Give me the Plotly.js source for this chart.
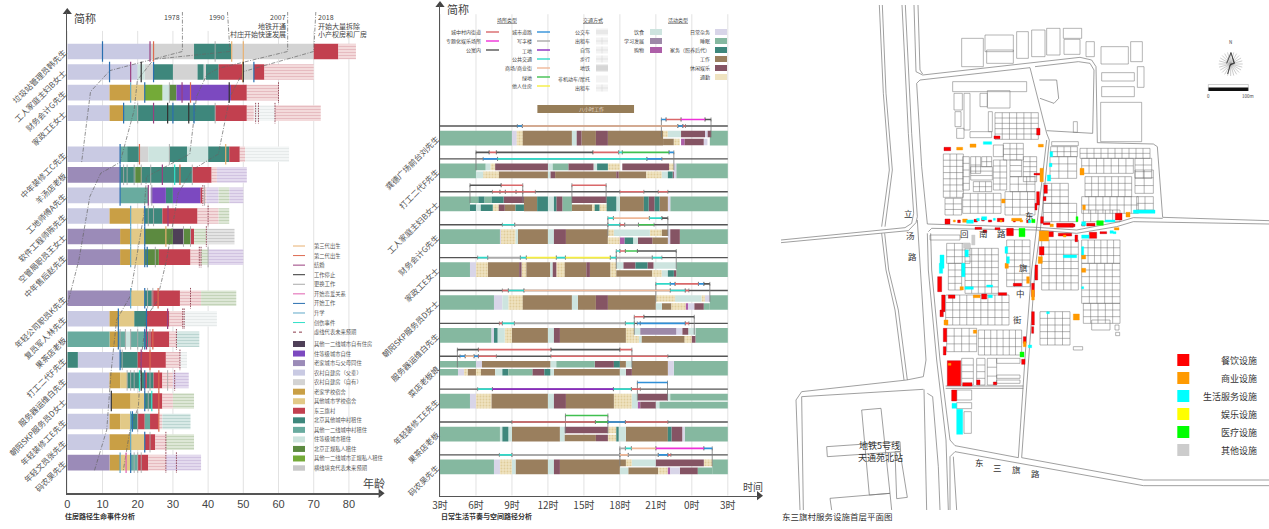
<!DOCTYPE html>
<html><head><meta charset="utf-8">
<script src="https://cdn.plot.ly/plotly-3.0.1.min.js"></script>
<style>html,body{margin:0;padding:0;background:#fff}#c{width:1269px;height:529px}</style>
</head><body><div id="c"></div>
<script>
const W=1269,H=529;
const FONT='"Noto Sans CJK SC","Liberation Sans",sans-serif';

/* ---------- left chart : housing paths ---------- */
const personRows=[0,1,2,3,5,6,7,8,9,10,12,13,14,15,16,17,18,19,20];
const personNames=['垃圾站管理员韩先生','工人家庭主妇B女士','财务会计G先生','家政工E女士','中年装修工C先生','羊汤店老板','工地师傅A先生','软件工程师陈先生','空管局职员王女士','中年售后赵先生','年轻公司职员K先生','复员军人林先生','果茶店老板','打工二代F先生','服务器运维白先生','朝阳SKP服务员D女士','年轻装修工E先生','年轻文员张先生','码农吴先生'];
const ageTicks=[0,10,20,30,40,50,60,70,80];
const hHan=[['P',0,23.5],['O',23.5,36],['T',36,46.5],['O',46.5,70],['R',70,77],['fr',77,82]];
const hB=[['P',0,20],['Q',20,22],['O',22,24.5],['T',24.5,30],['O',30,37],['T',37,38.7],['O',38.7,39.4],['T',39.4,43],['R',43,50],['O',50,53],['R',53,56],['fr',56,70]];
const hG=[['P',0,12],['A',12,18],['B',18,22],['H',22,27],['Q',27,29],['G',29,31],['N',31,46.5],['R',46.5,51],['fr',51,60]];
const hE=[['P',0,12],['A',12,16],['V',16,20],['T',20,42],['R',42,51],['fr',51,53],['fw',53,59],['fr',59,72]];
const hC=[['P',0,15],['V',15,17],['T',17,20.3],['O',20.3,23],['Q',23,29],['T',29,34],['Q',34,40],['T',40,46],['R',46,49],['fr',49,50.5],['fw',50.5,63]];
const hYang=[['U',0,15],['T',15,19.3],['G',19.3,21.2],['T',21.2,35.5],['R',35.5,41],['fr',41,42.5],['fp',42.5,51]];
const hA=[['P',0,15],['V',15,23],['N',23.7,28],['T',28,30],['N',30,37.8],['R',37.8,38.3],['fr',38.3,39.5],['fp',39.5,43],['fg',43,46],['fp',46,50]];
const hChen=[['P',0,12],['A',12,18],['B',18,22],['T',22,27],['R',27,37],['fr',37,43],['fg',43,46]];
const hWang=[['U',0,15],['A',15,18],['B',18,22],['G',22,30],['K',30,33],['G',33,35],['R',35,36],['fg',36,39.5],['fa',39.5,47.5]];
const hZhao=[['U',0,15],['A',15,18],['B',18,22],['G',22,26],['R',26,35],['fr',35,38],['fg',38,40],['fp',40,50]];
const hK=[['U',0,18],['B',18,22],['T',22,24],['R',24,32],['fr',32,38],['fg',38,48]];
const hLin=[['P',0,12],['A',12,14.5],['B',14.5,19],['T',19,22.5],['R',22.5,29],['fr',29,33],['fw',33,42.5]];
const hGuo=[['V',0,12],['A',12,14.5],['V',14.5,16.5],['Q',16.5,18],['V',18,22],['T',22,23],['R',23,29],['fr',29,31],['ft',31,37.5]];
const hF=[['T',0,3],['P',3,15],['T',15,20],['R',20,28],['fr',28,32],['fw',32,34]];
const hBai=[['P',0,12],['A',12,15],['B',15,17],['T',17,20.5],['Q',20.5,21],['T',21,22],['R',22,22.6],['T',22.6,24.5],['R',24.5,27],['fr',27,30],['fp',30,34.5]];
const hD=[['P',0,12.5],['A',12.5,18],['B',18,22],['T',22,24],['R',24,27],['fr',27,30],['fg',30,36]];
const hYoungE=[['P',0,12],['A',12,15],['B',15,18],['T',18,20],['R',20,22],['V',22,23.5],['R',23.5,26],['fr',26,27],['ft',27,35]];
const hZhang=[['P',0,12],['A',12,18],['B',18,22],['R',22,25],['fr',25,28],['fg',28,36]];
const hWu=[['U',0,12],['A',12,15],['B',15,18],['V',18,20],['R',20,23],['fr',23,28],['fp',28,38]];
const housing=[hHan,hB,hG,hE,hC,hYang,hA,hChen,hWang,hZhao,hK,hLin,hGuo,hF,hBai,hD,hYoungE,hZhang,hWu];

const eHan=[['w',10],['m',23.5],['c2',24.5],['g',42],['c3',46.7],['c3',50]];
const eB=[['w',12],['m',18],['s',21],['w',24.5],['c3',49.8],['s',50],['w',53]];
const eG=[['u',18],['w',22],['g',29],['m',32.6],['c2',35],['s',46],['d',60]];
const eE=[['w',16],['g',20],['m',24.5],['s',28.5],['w',30],['s',34.5],['w',36],['g',42],['d',53.5],['d',54.3],['d',59]];
const eC=[['w',15],['c2',20.5],['g',29],['c3',45]];
const eYang=[['w',15],['g',16],['g',17],['g',19],['g',21],['g',23.7],['m',27],['t',30.5],['c2',32],['g',35.5]];
const eA=[['w',15],['m',23],['g',24],['d',38.5],['g',39]];
const eChen=[['u',18],['w',22],['g',23],['g',24.5],['m',28.6],['d',40]];
const eWang=[['u',18],['w',22],['c3',28],['g',33],['g',35],['d',39.5]];
const eZhao=[['u',18],['w',22],['w',22.7],['g',25],['d',37.5],['d',38],['g',40]];
const eK=[['u',18],['w',22],['g',22.8],['g',24.3],['c2',25.8],['d',35]];
const eLin=[['w',14.5],['w',22.5],['m',28.5],['d',32.8],['d',33.2]];
const eGuo=[['w',14.5],['g',15],['g',16.5],['g',18],['g',20],['w',22],['m',22.5],['g',23.5],['c2',24.3],['d',31]];
const eF=[['w',15],['g',15.6],['m',21],['c2',23.5],['d',32]];
const eBai=[['g',17],['g',18],['g',19],['t',20.5],['s',21],['w',22],['g',23.5],['c2',26],['g',28.5],['d',30.5]];
const eD=[['s',12.5],['w',22],['g',23],['t',24],['c2',26]];
const eYoungE=[['u',18],['w',18.5],['g',20],['c2',26]];
const eZhang=[['u',18],['w',22],['g',23.5],['d',28]];
const eWu=[['u',15],['l',16.7],['w',18],['g',19],['g',20],['g',21],['d',28],['d',31]];
const lifeEvents=[eHan,eB,eG,eE,eC,eYang,eA,eChen,eWang,eZhao,eK,eLin,eGuo,eF,eBai,eD,eYoungE,eZhang,eWu];

const cohort1978Age=[32.7,32.7,12.1,6.6,4.07];
const cohort1978Row=[-1.94,0,0.93,1.95,5.39];
const cohort1990Age=[45.5,46.2,24.6,19.9,19,15,9.5,6.4,3.3,0];
const cohort1990Row=[-1.94,0,0.38,1.39,2.85,5.39,5.92,7.06,10.14,12.33];
const cohort2007Age=[62.6,62.6,42.9,39.6,36.7,34.8,22.5,21.8,17.8,14,12.4,11.2,7.7];
const cohort2007Row=[-1.94,0,0.82,1.14,2.2,4.99,6.09,7.87,11.93,13.06,15.65,18.41,20.39];
const cohort2018Age=[70.6,70,50,46.2,42.9,35.5,31.5,28.2,25.4,22.5,20.9,20.2,17.8,15.9];
const cohort2018Row=[-1.94,0,0.98,2.2,4.99,5.76,6.9,10.14,12.17,12.9,15,17.28,18.41,20.39];

const housingColor={P:'#c9cae3',O:'#d3d3d3',U:'#9b8bb8',A:'#c99f45',B:'#e2c987',R:'#c2404f',T:'#3e877c',V:'#69ab9f',Q:'#cde4df',G:'#5c8a40',H:'#74aa38',K:'#4f4058',N:'#7c49c0'};
const futureStyle={fr:['#f3dadb','#e4b8bd'],fp:['#e3daee','#cfc1e0'],fg:['#dde7d6','#c0d0b4'],fa:['#e4e4e4','#c8c8c8'],ft:['#d8e9e6','#b8d3cf'],fw:['#f3f6f6','#e4e9e9']};
const eventColor={c3:'#e8b070',c2:'#dd6a50',m:'#993f7f',s:'#333333',g:'#aaaaaa',l:'#e060b0',w:'#2a6fb0',u:'#60a8c8',t:'#30e0c8',d:'#8a3848'};

/* ---------- middle chart : daily rhythm ---------- */
const hourTicks=[3,6,9,12,15,18,21,24,27];
const hourLabels=['3时','6时','9时','12时','15时','18时','21时','0时','3时'];
const dayNames=['龚德广场前台刘先生','打工二代F先生','工人家庭主妇B女士','财务会计G先生','家政工E女士','朝阳SKP服务员D女士','服务器运维白先生','菜店老板娘','年轻装修工E先生','果茶店老板','码农吴先生'];
const dLiu=[['f','S',3,9],['f','D',9,9.4],['f','C',9.4,9.9],['f','W',9.9,14],['f','M',14,14.4],['f','L',14.4,14.8],['f','W',14.8,16],['f','L',16,17],['f','W',17,21.6],['u','C',21.6,22],['u','M',22,23.1],['u','L',23.1,25.1],['u','D',25.1,25.3],['u','L',25.3,25.6],['l','W',21.6,22.5],['l','C',22.5,23],['l','B',23.1,23.4],['l','L',23.4,25],['l','D',25,25.3],['f','S',25.5,27]];
const dF=[['f','S',3,6],['u','S',6,6.8],['u','M',6.8,7.2],['u','C',7.2,7.6],['u','L',7.6,12],['u','M',12,12.4],['u','S',12.4,13.7],['u','L',13.7,15.8],['u','M',15.8,16.1],['u','H',16.1,17],['u','C',17,18],['u','L',18.2,22.1],['u','C',22.1,22.5],['l','M',6,6.6],['l','C',6.6,7.9],['l','W',7.9,12],['l','M',12,12.2],['l','L',12.2,12.6],['l','W',12.6,17.7],['l','L',17.7,17.9],['l','W',17.9,20.2],['l','C',20.2,21.5],['l','M',21.5,22],['l','H',22,22.4],['l','L',22.4,22.5],['f','D',22.5,22.7],['f','S',22.7,27]];
const dB=[['f','S',3,5.5],['u','S',5.5,6.2],['u','H',6.2,6.7],['u','S',6.7,7.3],['u','H',7.3,8.3],['u','L',8.3,10],['l','H',5.5,6],['l','M',6,6.4],['l','H',6.4,7.4],['l','C',7.4,7.9],['l','L',7.9,8.4],['l','W',8.4,9.3],['l','H',9.3,10],['f','W',10,11.1],['f','H',11.1,12],['f','M',12,12.5],['f','H',12.5,12.7],['f','L',12.7,13.2],['f','S',13.2,14],['u','L',14,16.9],['l','W',14,15.7],['l','C',15.7,15.9],['l','H',15.9,16.3],['l','C',16.3,16.9],['f','H',16.9,17.7],['f','M',17.7,18],['f','W',18,20],['f','H',20,20.4],['f','L',20.4,20.9],['f','H',20.9,21.3],['f','W',21.3,22],['f','D',22,22.2],['f','S',22.2,27]];
const dG=[['f','S',3,8],['f','D',8,8.1],['f','C',8.1,9.3],['f','M',9.3,9.5],['f','W',9.5,12],['f','M',12,12.5],['f','L',12.5,13.5],['f','W',13.5,17],['u','C',17,17.5],['u','M',17.5,20.5],['u','C',20.5,21.5],['u','W',21.5,22],['l','C',17,18],['l','B',18,18.4],['l','H',18.4,19.1],['l','M',19.1,19.5],['l','L',19.5,20.7],['l','W',20.7,22],['f','D',22,22.2],['f','L',22.2,23],['f','S',23,27]];
const dE=[['f','S',3,5.5],['f','D',5.5,6],['f','C',6,7],['f','W',7,9.6],['f','L',9.6,9.8],['f','C',9.8,10.2],['f','W',10.2,12.2],['f','M',12.2,12.4],['f','L',12.4,12.7],['f','C',12.7,13.4],['f','W',13.4,15.2],['f','L',15.2,15.5],['f','W',15.5,17.2],['f','C',17.2,17.7],['u','M',17.7,18.3],['u','L',18.3,19.3],['u','H',19.3,20.3],['u','L',20.3,20.8],['u','M',20.8,22.7],['l','W',17.7,20.7],['l','C',20.7,21.5],['l','M',21.5,22],['l','H',22,22.5],['l','L',22.5,22.7],['f','S',22.7,27]];
const dD=[['f','S',3,7.5],['f','D',7.5,8.2],['f','M',8.2,8.7],['f','C',8.7,9.9],['f','W',9.9,14],['f','M',14,14.5],['f','W',14.5,16],['f','L',16,17],['f','W',17,21],['u','C',21,22.6],['u','M',22.6,24.8],['u','C',24.8,25.1],['u','D',25.1,25.5],['l','M',21,21.5],['l','W',21.5,22.3],['l','C',22.3,23.5],['l','B',23.5,23.7],['l','D',23.7,24.2],['l','L',24.2,25],['l','S',25,25.5],['f','S',25.5,27]];
const dBai=[['f','S',3,7.3],['f','D',7.3,7.5],['f','H',7.5,7.8],['f','M',7.8,8.4],['f','C',8.4,9],['f','W',9,12],['f','M',12,12.5],['f','L',12.5,13],['f','W',13,18.5],['f','C',18.5,19.2],['u','M',19.2,19.7],['u','T',19.7,22.7],['u','D',22.7,23.2],['u','L',23.2,23.7],['u','M',23.7,24.3],['l','C',19.2,19.6],['l','M',19.6,19.8],['l','W',19.8,23.4],['l','C',23.4,24],['l','L',24,24.3],['f','S',24.3,27]];
const dCai=[['u','S',3,6],['u','D',6,6.5],['u','W',6.5,12.2],['u','M',12.2,12.7],['u','S',12.7,15.9],['u','L',15.9,17.5],['u','H',17.5,18],['u','W',18,18.5],['u','M',18.5,19],['l','S',3,4.5],['l','D',4.5,5],['l','C',5,5.3],['l','W',5.3,6],['l','C',6,6.4],['l','W',6.4,7.6],['l','M',7.6,8.2],['l','H',8.2,8.7],['l','S',8.7,10.7],['l','L',10.7,11.7],['l','H',11.7,12.2],['l','M',12.2,12.5],['l','W',12.5,18],['l','M',18,18.5],['l','L',18.5,19],['f','W',19,22],['f','D',22,22.5],['f','S',22.5,27]];
const dYoungE=[['f','S',3,5.5],['f','D',5.5,6],['f','C',6,7.3],['f','W',7.3,12],['f','M',12,12.5],['f','L',12.5,13.5],['f','W',13.5,17.5],['f','C',17.5,19],['f','M',19,19.5],['u','L',19.5,22],['u','M',22,22.2],['u','S',22.2,27],['l','B',19.5,19.7],['l','L',19.7,21],['l','M',21,21.3],['l','S',21.3,27]];
const dGuo=[['f','S',3,8],['f','M',8,8.2],['f','H',8.2,8.7],['f','M',8.7,9],['f','W',9,13],['f','M',13,13.4],['u','L',13.4,17],['u','C',17,17.7],['l','W',13.4,16],['l','L',16,17],['l','C',17,17.7],['f','H',17.7,17.9],['f','M',17.9,18.5],['f','W',18.5,22],['f','H',22,22.3],['f','L',22.3,23.2],['f','D',23.2,23.4],['f','S',23.4,27]];
const dWu=[['f','S',3,7.5],['f','D',7.5,8],['f','C',8,9],['f','M',9,9.3],['f','W',9.3,12],['f','M',12,12.5],['f','L',12.5,13],['f','W',13,18],['u','W',18,18.5],['u','C',18.5,19],['u','M',19,21],['u','L',21,25],['u','C',25,25.7],['l','M',18,18.7],['l','W',18.7,21.2],['l','C',21.2,22],['l','B',22,22.2],['l','D',22.2,23],['l','L',23,24.5],['l','S',24.5,25.7],['f','S',25.7,27]];
const dayActivities=[dLiu,dF,dB,dG,dE,dD,dBai,dCai,dYoungE,dGuo,dWu];

const tLiu=[['b',9.45,9.87],['o',9.87,22.83],['b',22.83,23.25],['r',23.25,23.47]];
const tF=[['b',6.6,7.8],['c',7.8,20.25],['b',20.25,21.5]];
const tB=[['r',7.37,8],['r',8,8.45],['r',8.45,9.34],['r',9.34,9.9],['r',9.9,10.95],['r',18,20],['r',21.2,22]];
const tG=[['c',8.2,9.23],['g',9.23,17],['c',17,18],['r',18,18.4],['g',18.4,19.55],['n',19.55,20.85]];
const tE=[['c',6.14,6.98],['g',6.98,9.7],['c',9.7,10.2],['y',10.2,12.7],['c',12.7,13.46],['y',13.46,17.2],['c',17.2,17.7],['g',17.7,20.7],['c',20.7,21.5]];
const tD=[['r',8.2,8.7],['c',8.7,10],['o',10,22.2],['c',22.2,23.45],['r',23.45,23.75]];
const tBai=[['r',7.95,8.2],['c',8.2,9.2],['g',9.2,18.46],['c',18.46,19.2],['b',19.45,19.7],['b',19.7,23.45],['r',23.45,23.75]];
const tCai=[['b',4.67,5.1],['o',5.1,5.84],['b',5.84,6.2],['r',6.2,7.7],['r',12.25,22]];
const tYoungE=[['c',6.14,7.37],['p',7.37,17.46],['c',17.46,18.96],['r',18.96,19.7]];
const tGuo=[['r',9,15.96],['n',15.96,17],['b',17,18.46],['r',18.46,22]];
const tWu=[['c',7.95,9],['g',9,18],['o',18,18.7],['g',18.7,21.2],['b',21.2,22],['r',22,22.25]];
const dayTracks=[tLiu,tF,tB,tG,tE,tD,tBai,tCai,tYoungE,tGuo,tWu];

const bLiu=[['b',21.46,21.85],['r',21.85,23.1],['m',23.1,25.1],['d',25.1,25.6]];
const bF=[['d',6,7.1],['r',7.1,7.7],['d',7.7,15.75],['r',15.75,17.9],['c',17.9,18.2],['n',18.2,22.1],['b',22.1,22.5]];
const bB1=[['d',5.5,8.1],['r',8.1,9.9]];
const bB2=[['r',14,16.85]];
const bG=[['c',17,17.46],['o',17.46,20.46],['c',20.46,21.5],['d',21.5,22]];
const bE=[['c',17.7,18],['r',18,18.46],['n',18.46,19.46],['d',19.46,22.7]];
const bD=[['c',21,22.2],['b',22.2,22.6],['r',22.6,24.55],['b',24.55,25],['d',25,25.5]];
const bBai=[['r',19.2,20],['d',20,24.2]];
const bCai=[['d',4.45,6.2],['r',6.2,12.25],['d',12.25,18],['r',18,19]];
const bYoungE=[['b',19.46,21.97]];
const bGuo=[['n',13.46,17]];
const bWu=[['g',18,18.46],['c',18.46,18.96],['o',18.96,21],['m',21,25],['b',25,25.7]];
const dayBranches=[[bLiu],[bF],[bB1,bB2],[bG],[bE],[bD],[bBai],[bCai],[bYoungE],[bGuo],[bWu]];
const eightHourWork=[11.12,19.18];

const activityColor={S:'#85b8a0',W:'#9a7f5e',L:'#855464',C:'#efe3c0',M:'#cde4df',H:'#3e877c',D:'#d8d5e8',T:'#9d89a8',B:'#ad5fa8'};
const placeColor={d:'#555555',r:'#d9686a',m:'#ee30d8',b:'#3090d8',g:'#aaaaaa',p:'#8a2bc0',c:'#30d8c8',o:'#efb898',n:'#40c050',y:'#f5ee40'};

/* ---------- right : map (plan units) ---------- */
const roadLines=[
 [[298,15],[310,280],[328,510],[305,680]],[[307,15],[318,280],[337,510],[315,680]],
 [[305,700],[318,810],[345,930],[372,1140]],[[314,700],[326,810],[355,930],[382,1140]],
 [[3,720],[305,690],[375,683],[395,670],[401,640],[385,400],[366,15]],
 [[3,728],[305,698],[385,692],[408,668],[412,650],[395,400],[376,15]],
 [[402,15],[408,215],[428,225],[900,172],[935,180],[948,200],[952,428],[1120,432],[1132,440],[1148,652],[1467,662]],
 [[414,15],[420,210],[428,222]],
 [[412,660],[432,1000],[438,1080],[430,1130],[380,1140],[65,1175],[48,1200],[60,1530]],
 [[70,1530],[65,1190],[430,1168]],
 [[420,240],[750,203],[800,400],[808,420]],[[765,200],[895,185],[930,190],[942,210],[938,400],[800,392]],
 [[420,240],[410,250],[425,500],[442,672],[770,682],[890,690],[1020,665],[1060,653],[1148,655]],
 [[445,695],[455,685],[770,690],[890,700],[1010,680],[1060,665],[1467,672]],
 [[442,700],[445,810],[470,1080],[498,1320],[505,1530]],[[452,700],[455,810],[480,1080],[510,1320],[525,1337],[715,1373]],
 [[725,1373],[1090,1440],[1467,1440]],[[510,1530],[510,1370],[525,1355],[1090,1457],[1467,1457]],
 [[432,1168],[440,1530]],[[442,1180],[458,1190],[475,1400],[480,1530]],[[520,1370],[530,1530]],
 [[808,420],[782,680],[765,810],[750,1030],[725,1373]],[[800,420],[770,680],[755,810],[738,1030],[715,1373]],
 [[497,1158],[730,1158]],[[497,1165],[730,1165]],
 [[245,1230],[303,1225],[330,1480],[268,1485],[245,1230]],[[140,1340],[360,1325],[362,1355],[142,1370],[140,1340]],[[150,1495],[330,1480],[335,1530]],[[345,1355],[360,1355],[382,1492],[350,1496],[345,1355]],
 [[150,1495],[155,1530]],[[778,240],[830,240],[836,295],[822,310],[780,295]]
];
const plainBuildings=[[545,115,65,85],[615,105,85,50],[620,150,80,40],[710,95,35,80],[755,90,40,80],[800,85,40,80],[850,85,55,30],[852,118,48,45],[918,125,25,45],[963,140,82,52],[1052,125,35,60],[1072,200,20,62],[965,218,98,25],[965,260,98,30],[962,307,123,118],[518,245,222,30],[522,280,25,50],[525,335,18,45],[530,385,22,30],[552,280,18,110],[622,272,68,52],[600,280,22,40],[570,395,65,18],[625,335,12,60],[880,365,12,32],[815,425,80,12],[530,1170,45,30],[530,1208,45,18],[552,1235,22,65],[935,960,55,30],[1005,975,12,15],[1007,997,12,10],[880,1040,28,10],[650,1075,70,15],[650,1125,70,10],[650,1140,70,10],[450,705,90,15]];
const villageBlocks=[[490,462,60,130,3,7],[495,595,50,50,2,3],[572,470,30,50,2,2],[605,470,30,30,2,2],[572,500,65,40,1,3],[580,545,55,30,3,2],[548,470,20,100,1,5],[548,580,115,60,5,3],[640,435,30,35,1,1],[670,430,60,50,3,3],[640,480,40,90,2,5],[690,480,35,50,1,3],[730,470,40,75,2,5],[690,530,75,45,3,2],[675,575,90,70,4,3],[645,338,130,80,6,5],[812,440,80,30,4,2],[810,470,80,65,3,3],[790,550,75,60,3,3],[790,610,100,55,4,2],[900,445,210,30,10,2],[905,475,155,45,7,2],[1065,475,50,60,2,3],[915,530,140,60,7,3],[1065,510,55,70,2,3],[905,590,170,50,8,2],[1070,590,50,40,2,2],[910,630,110,35,5,1],[500,730,70,60,3,3],[505,790,40,80,2,4],[555,745,100,135,5,7],[680,720,70,140,3,7],[785,720,110,150,5,7],[905,720,115,70,6,3],[905,790,115,120,5,6],[497,885,190,90,9,4],[500,985,90,70,4,3],[595,990,130,75,7,3],[780,935,90,100,4,5],[910,910,110,60,5,3],[545,1075,35,80,1,4],[590,1075,25,80,1,4],[622,1075,28,80,1,3]];
const diningSites=[[492,442,20,10],[495,657,15,15],[533,660,8,8],[582,658,10,8],[652,655,20,10],[642,408,18,8],[770,385,10,20],[792,555,10,25],[790,590,8,12],[1006,640,20,20],[928,697,22,18],[680,685,20,22],[585,682,20,6],[610,690,10,8],[782,650,8,20],[790,668,20,6],[830,670,50,12],[778,740,14,25],[805,695,15,15],[835,700,40,8],[885,705,8,20],[960,695,20,6],[762,520,20,5],[770,575,8,40],[765,610,6,20],[920,670,25,8],[473,830,12,45],[485,885,10,50],[480,930,10,20],[490,985,10,40],[490,1040,8,25],[505,885,20,10],[605,882,15,15],[655,878,25,8],[765,795,8,45],[755,850,8,40],[755,935,8,40],[755,980,6,20],[730,1010,8,20],[725,1078,10,15],[502,1082,40,75],[548,1148,28,10],[515,1170,15,33],[700,850,25,8],[605,655,8,8],[625,660,10,6],[700,660,6,6],[740,660,8,8],[645,683,15,6],[905,672,10,6],[870,672,15,8],[590,1140,10,14],[640,1146,10,8]];
const shopSites=[[530,442,18,8],[570,432,18,10],[548,657,14,10],[665,597,10,12],[695,655,30,8],[900,505,12,20],[908,615,8,14],[778,693,28,30],[1038,637,12,14],[1003,683,14,7],[780,505,10,40],[775,433,15,8],[775,770,12,20],[905,765,12,12],[540,860,10,10],[880,942,18,18],[492,960,12,15],[580,990,10,10],[905,805,12,12],[755,870,8,30],[580,885,20,8],[775,780,10,10],[505,1090,8,6],[720,660,8,6],[660,660,6,6],[810,672,10,8],[850,705,8,6],[520,660,6,6],[730,1025,8,15],[675,790,10,15],[740,830,8,20]];
const serviceSites=[[610,425,25,8],[810,455,8,15],[808,490,8,10],[802,525,10,18],[1060,630,65,10],[905,665,12,12],[975,660,30,6],[905,705,22,10],[990,692,10,8],[850,765,40,8],[905,740,6,25],[560,660,20,10],[605,650,15,10],[480,765,12,40],[555,750,10,20],[675,740,8,20],[516,1210,14,15],[530,1228,18,75],[478,790,10,30],[555,860,25,8],[625,885,12,8],[745,1035,10,8],[905,860,6,6],[800,935,8,6],[545,790,10,40],[590,655,8,8],[640,655,6,6],[745,660,8,8],[1000,695,8,6],[680,770,8,20],[620,855,18,6]];
const clinicSites=[[717,685,18,25],[950,662,20,14],[755,658,10,10],[888,650,6,15],[720,1056,12,15]];
const otherSites=[[550,730,20,15],[575,705,10,30]];
const facilityNames=['餐饮设施','商业设施','生活服务设施','娱乐设施','医疗设施','其他设施'];
const facilityColors=['#ff0000','#ff9a00','#00ffff','#ffff00','#00ff00','#cccccc'];
const mapLabels=[['立',385,640],['汤',390,705],['路',396,767],['东',748,645],['回',553,700],['南',610,700],['路',665,698],['旗',730,800],['中',722,880],['街',712,958],['东',597,1387],['三',652,1400],['旗',708,1408],['路',765,1420]];

/* ---------- assembling ---------- */
const traces=[];const shapes=[];const ann=[];
const px=x=>x/W, py=y=>1-y/H;
function text(t,x,y,size,anchor,color,extra){ann.push(Object.assign({text:t,xref:'paper',yref:'paper',x:px(x),y:py(y),showarrow:false,xanchor:anchor||'left',yanchor:'middle',font:{family:FONT,size:size,color:color||'#444'},bgcolor:'rgba(0,0,0,0)',borderpad:0},extra||{}));}
function box(x0,y0,x1,y1,fill,line){shapes.push({type:'rect',xref:'paper',yref:'paper',x0:px(x0),x1:px(x1),y0:py(y0),y1:py(y1),fillcolor:fill,line:{width:line?0.5:0,color:line||fill}});}
function seg(x0,y0,x1,y1,c,w,dash){shapes.push({type:'line',xref:'paper',yref:'paper',x0:px(x0),x1:px(x1),y0:py(y0),y1:py(y1),line:{color:c,width:w||1,dash:dash||'solid'}});}
function lineTrace(xs,ys,color,width,xa,ya,dash){traces.push({type:'scatter',mode:'lines',x:xs,y:ys,xaxis:xa,yaxis:ya,line:{color:color,width:width,dash:dash||'solid'},hoverinfo:'skip',connectgaps:false});}
function barTrace(ys,bases,widths,w,marker,xa,ya){traces.push({type:'bar',orientation:'h',y:ys,base:bases,x:widths,width:w,marker:Object.assign({line:{width:0}},marker),xaxis:xa,yaxis:ya,hoverinfo:'skip'});}

/* left bars */
const hb={};housing.forEach((row,i)=>row.forEach(s=>{(hb[s[0]]=hb[s[0]]||{y:[],b:[],w:[]});hb[s[0]].y.push(personRows[i]);hb[s[0]].b.push(s[1]);hb[s[0]].w.push(s[2]-s[1]);}));
Object.keys(hb).forEach(k=>{
 const d=hb[k];
 if(housingColor[k])barTrace(d.y,d.b,d.w,0.76,{color:housingColor[k]},'x','y');
 else barTrace(d.y,d.b,d.w,0.76,{color:futureStyle[k][0],pattern:{shape:'-',bgcolor:futureStyle[k][0],fgcolor:futureStyle[k][1],size:3,solidity:0.3}},'x','y');
});
/* cohorts */
[[cohort1978Age,cohort1978Row],[cohort1990Age,cohort1990Row],[cohort2007Age,cohort2007Row],[cohort2018Age,cohort2018Row]].forEach(c=>lineTrace(c[0],c[1],'#666',0.7,'x','y','4px,1.5px,1px,1.5px'));
/* events */
const ev={};lifeEvents.forEach((row,i)=>row.forEach(e=>{const o=(ev[e[0]]=ev[e[0]]||{x:[],y:[]});const r=personRows[i];o.x.push(e[1],e[1],null);o.y.push(r-0.5,r+0.5,null);}));
Object.keys(ev).forEach(k=>lineTrace(ev[k].x,ev[k].y,eventColor[k],k==='g'?0.9:(k==='d'?0.9:1.2),'x','y',k==='d'?'1.5px,1px':'solid'));
/* left grid */
ageTicks.forEach(a=>shapes.push({type:'line',xref:'x',yref:'y',x0:a,x1:a,y0:-1,y1:21.49,layer:'below',line:{color:'#e2e2e2',width:1}}));
/* arrows */
traces.push({type:'scatter',mode:'markers',x:[0],y:[-1.92],xaxis:'x',yaxis:'y',cliponaxis:false,marker:{symbol:'triangle-up',size:8,color:'#444'},hoverinfo:'skip'});
traces.push({type:'scatter',mode:'markers',x:[89],y:[21.49],xaxis:'x',yaxis:'y',cliponaxis:false,marker:{symbol:'triangle-right',size:8,color:'#444'},hoverinfo:'skip'});

/* middle */
const laneOff={f:0.365,u:0.243,l:0.486},laneW={f:0.447,u:0.2,l:0.2};
const ab={};dayActivities.forEach((row,i)=>row.forEach(s=>{const k=s[1]+s[0];const o=(ab[k]=ab[k]||{y:[],b:[],w:[]});o.y.push(i+laneOff[s[0]]);o.b.push(s[2]);o.w.push(s[3]-s[2]);}));
Object.keys(ab).forEach(k=>{const c=k[0],l=k[1],d=ab[k];
 const m={color:activityColor[c]};
 if(c==='C')m.pattern={shape:'.',bgcolor:'#efe3c0',fgcolor:'#e0cc9a',size:3,solidity:0.3};
 barTrace(d.y,d.b,d.w,laneW[l],m,'x2','y2');});
barTrace([-0.517],[eightHourWork[0]],[eightHourWork[1]-eightHourWork[0]],0.243,{color:'#967d58'},'x2','y2');
/* base tracks */
const bx=[],by=[];dayTracks.forEach((t,i)=>{bx.push(3,27,null);by.push(i,i,null);});
lineTrace(bx,by,'#555',1.4,'x2','y2');
const pl={};const tickX=[],tickY=[];
function addPlace(code,a,b,y){const o=(pl[code]=pl[code]||{x:[],y:[]});o.x.push(a,b,null);o.y.push(y,y,null);tickX.push(a,a,null,b,b,null);tickY.push(y-0.06,y+0.06,null,y-0.06,y+0.06,null);}
dayTracks.forEach((t,i)=>t.forEach(s=>addPlace(s[0],s[1],s[2],i)));
dayBranches.forEach((gs,i)=>gs.forEach(g=>{g.forEach(s=>addPlace(s[0],s[1],s[2],i-0.2));
 const a=g[0][1],b=g[g.length-1][2];tickX.push(a,a,null,b,b,null);tickY.push(i-0.2,i+0.345,null,i-0.2,i+0.345,null);}));
lineTrace(tickX,tickY,'#777',0.8,'x2','y2');
Object.keys(pl).forEach(k=>lineTrace(pl[k].x,pl[k].y,placeColor[k],1.6,'x2','y2'));
hourTicks.forEach(a=>shapes.push({type:'line',xref:'x2',yref:'y2',x0:a,x1:a,y0:-3.4,y1:11.24,layer:'below',line:{color:'#e2e2e2',width:1}}));
traces.push({type:'scatter',mode:'markers',x:[3],y:[-3.68],xaxis:'x2',yaxis:'y2',cliponaxis:false,marker:{symbol:'triangle-up',size:8,color:'#444'},hoverinfo:'skip'});
traces.push({type:'scatter',mode:'markers',x:[29.6],y:[11.24],xaxis:'x2',yaxis:'y2',cliponaxis:false,marker:{symbol:'triangle-right',size:8,color:'#444'},hoverinfo:'skip'});

/* map */
const rx=[],ry=[];roadLines.forEach(l=>{l.forEach(p=>{rx.push(p[0]);ry.push(p[1]);});rx.push(null);ry.push(null);});
lineTrace(rx,ry,'#777',0.7,'x3','y3');
const gx=[],gy=[];
function rectPath(r,xs,ys){xs.push(r[0],r[0]+r[2],r[0]+r[2],r[0],r[0],null);ys.push(r[1],r[1],r[1]+r[3],r[1]+r[3],r[1],null);}
plainBuildings.forEach(r=>rectPath(r,gx,gy));
lineTrace(gx,gy,'#777',0.55,'x3','y3');
const vx=[],vy=[];
villageBlocks.forEach(b=>{rectPath(b,vx,vy);
 for(let i=1;i<b[4];i++){const x=b[0]+b[2]*i/b[4];vx.push(x,x,null);vy.push(b[1],b[1]+b[3],null);}
 for(let j=1;j<b[5];j++){const y=b[1]+b[3]*j/b[5];vx.push(b[0],b[0]+b[2],null);vy.push(y,y,null);}});
lineTrace(vx,vy,'#6a6a6a',0.5,'x3','y3');
[[diningSites,0],[shopSites,1],[serviceSites,2],[clinicSites,4],[otherSites,5]].forEach(p=>{
 const xs=[],ys=[];p[0].forEach(r=>rectPath(r,xs,ys));
 traces.push({type:'scatter',mode:'lines',x:xs,y:ys,fill:'toself',fillcolor:facilityColors[p[1]],line:{width:0.4,color:p[1]===0?'#b00018':facilityColors[p[1]]},xaxis:'x3',yaxis:'y3',hoverinfo:'skip'});
});
/* compass */
const cx=[],cy=[];for(let a=0;a<360;a+=15){const t=a*Math.PI/180;cx.push(1352,1352+36*Math.cos(t),null);cy.push(192,192+36*Math.sin(t),null);}
lineTrace(cx,cy,'#999',0.5,'x3','y3');
traces.push({type:'scatter',mode:'lines',x:[1353,1364,1350,1343,1352,1362,1353,1340,1353],y:[158,190,195,222,192,190,158,190,158],fill:'toself',fillcolor:'#222',line:{width:0.5,color:'#222'},xaxis:'x3',yaxis:'y3',hoverinfo:'skip'});

/* axis */
const axisBase={showgrid:false,zeroline:false,showline:true,linecolor:'#555',linewidth:1.3,ticks:'',fixedrange:true};
const layout={width:W,height:H,margin:{l:0,r:0,t:0,b:0,pad:0},paper_bgcolor:'#fff',plot_bgcolor:'rgba(0,0,0,0)',showlegend:false,barmode:'overlay',
 font:{family:FONT,color:'#444'},
 xaxis:Object.assign({},axisBase,{domain:[67.3/W,380.6/W],range:[0,89],anchor:'y',tickvals:ageTicks,ticktext:ageTicks.map(String),tickfont:{family:'"Liberation Sans",sans-serif',size:11,color:'#444'}}),
 yaxis:Object.assign({},axisBase,{domain:[1-493.3/H,1-12/H],range:[21.49,-1.92],anchor:'x',tickvals:personRows,ticktext:personNames,tickangle:-45,tickfont:{family:FONT,size:8,color:'#555'}}),
 xaxis2:Object.assign({},axisBase,{domain:[440/W,759/W],range:[3,29.6],anchor:'y2',tickvals:hourTicks,ticktext:hourLabels,tickfont:{family:FONT,size:10,color:'#444'}}),
 yaxis2:Object.assign({},axisBase,{domain:[1-495.7/H,1-5/H],range:[11.24,-3.68],anchor:'x2',tickvals:dayNames.map((n,i)=>i+0.365),ticktext:dayNames,tickangle:-45,tickfont:{family:FONT,size:8,color:'#555'}}),
 xaxis3:{domain:[780/W,1],range:[0,1467],visible:false,anchor:'y3',fixedrange:true},
 yaxis3:{domain:[0,1],range:[1587,0],visible:false,anchor:'x3',fixedrange:true},
 shapes:shapes,annotations:ann};

/* ---------- text & legends ---------- */
text('简称',73,18,11);text('年龄',362,483,11);text('简称',445.5,9,11);text('时间',742,486,10);
text('住房路径生命事件分析',64,516,7,'left','#333',{font:{family:FONT,size:7,color:'#333',weight:700}});
text('日常生活节奏与空间路径分析',440,516,7,'left','#333',{font:{family:FONT,size:7,color:'#333',weight:700}});
text('东三旗村服务设施首层平面图',781,516,8.5,'left','#333');
[['1978',181,17],['1990',226,17],['2007',287,17],['地铁开通',287,26],['村庄开始快速发展',287,34]].forEach(a=>text(a[0],a[1],a[2],7,'right'));
[['2018',317,17],['开始大量拆除',317,26],['小产权房和厂房',317,34]].forEach(a=>text(a[0],a[1],a[2],7,'left'));

const eventLegend=[['第三代出生','c3'],['第二代出生','c2'],['结婚','m'],['工作停止','s'],['更换工作','g'],['开始恋爱关系','l'],['开始工作','w'],['升学','u'],['创伤事件','t'],['虚线代表未来预期','d']];
eventLegend.forEach((e,i)=>{const y=246+9.57*i;seg(293,y,305,y,eventColor[e[1]],1,e[1]==='d'?'dot':'solid');text(e[0],312.5,y,5.3,'left','#555');});
const housingLegend=[['其他一二线城市自有住房','K'],['住等级城市自住','N'],['老家城市与父母同住','U'],['农村自建房（父辈）','P'],['农村自建房（自有）','O'],['老家学校宿舍','A'],['其他城市学校宿舍','B'],['东三旗村','R'],['北京其他城中村租住','T'],['其他一二线城中村租住','V'],['住等级城市租住','Q'],['北京正规私人租住','G'],['其他一二线城市正规私人租住','H'],['横线填充代表未来预期','fa']];
housingLegend.forEach((e,i)=>{const y=344+9.54*i;box(293,y-3,305,y+3,housingColor[e[1]]||'#d8d8d8');if(e[1]==='fa'){seg(293,y-1,305,y-1,'#999',0.5);seg(293,y+1,305,y+1,'#999',0.5);}text(e[0],312.5,y,5.3,'left','#555');});

text('<u>场所类型</u>',506.7,20,5,'center');text('<u>交通方式</u>',592.7,20,5,'center');text('<u>活动类型</u>',678,20,5,'center');
[['城中村内街道','r'],['专题化娱乐场所','m'],['公寓内','d']].forEach((e,i)=>{const y=32+9*i;text(e[0],482,y,5,'right');seg(486,y,499,y,placeColor[e[1]],1.4);});
[['城市道路','b'],['写字楼','g'],['工地','p'],['公共交通','c'],['商场/商业街','o'],['绿地','n'],['他人住房','y']].forEach((e,i)=>{const y=32+9*i;text(e[0],533,y,5,'right');seg(537,y,550,y,placeColor[e[1]],1.4);});
[['公交车',32],['出租车',41],['自驾',50],['步行',59],['地铁',68],['非机动车/摩托',79],['出租车',88]].forEach((e,i)=>{text(e[0],591,e[1],5,'right');box(596,e[1]-3.5,608,e[1]+3.5,i===4?'#dcdcdc':'#f3f3f3');if(i===4||i===0){seg(596,e[1]-1,608,e[1]-1,'#bbb',0.4);seg(596,e[1]+1,608,e[1]+1,'#bbb',0.4);}else if(i!==5){seg(602,e[1]-3.5,602,e[1]+3.5,'#ccc',0.4);seg(596,e[1],608,e[1],'#ccc',0.4);}});
[['饮食','M'],['学习发展','T'],['购物','B']].forEach((e,i)=>{const y=32+9*i;text(e[0],645,y,5,'right');box(650,y-3,662,y+3,activityColor[e[1]]);});
[['日常杂务','D'],['睡眠','S'],['家务（照养后代）','H'],['工作','W'],['休闲娱乐','L'],['通勤','C']].forEach((e,i)=>{const y=32+9*i;text(e[0],711,y,5,'right');box(715,y-3,727,y+3,activityColor[e[1]]);});
text('八小时工作',591,109,5,'center','#e6dccb');

facilityNames.forEach((n,i)=>{const y=360+18*i;box(1177.3,y-6,1189.3,y+6,facilityColors[i]);text(n,1257.7,y,9,'right','#333');});
mapLabels.forEach(l=>text(l[0],780+l[1]/3,l[2]/3,8.5,'center','#333'));
text('地铁5号线',780+298/3,445,9,'center','#333');text('天通苑北站',780+300/3,457,9,'center','#333');
text('N',780+1352/3,42.5,4.5,'center','#444');text('0',780+1285/3,95.5,4.5,'center');text('100m',780+1403/3,95.5,4.5,'center');
box(780+1285/3,87.5,780+1405/3,91,'#111');
seg(780+1285/3,84.5,780+1285/3,91,'#888',0.4);seg(780+1405/3,84.5,780+1405/3,91,'#888',0.4);seg(780+1285/3,84.5,780+1405/3,84.5,'#888',0.4);

Plotly.newPlot('c',traces,layout,{displayModeBar:false,staticPlot:true});
</script></body></html>
